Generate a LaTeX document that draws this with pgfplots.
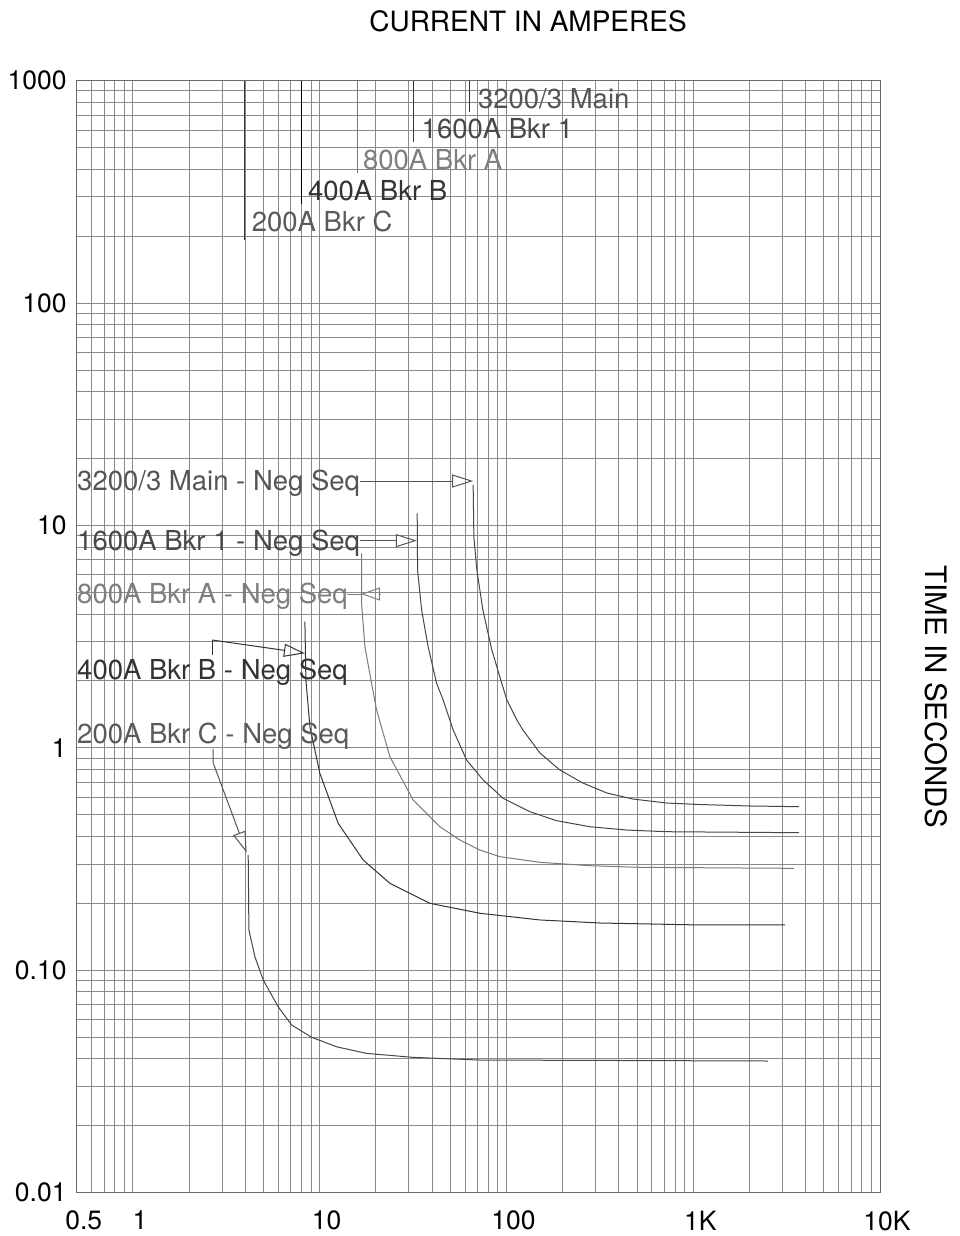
\documentclass[border=0pt]{standalone}
\usepackage{fontspec}
\setmainfont{TeX Gyre Heros}
\usepackage{pgfplots}
\pgfplotsset{compat=1.18}
\usetikzlibrary{arrows.meta}
\definecolor{gridc}{HTML}{8A8A8A}
\definecolor{axisc}{HTML}{6A6A6A}
\definecolor{curvec}{HTML}{474747}
\definecolor{curvel}{HTML}{7A7A7A}
\definecolor{arrowc}{HTML}{555555}
\definecolor{tmain}{HTML}{555555}
\definecolor{tone}{HTML}{484848}
\definecolor{ta}{HTML}{7E7E7E}
\definecolor{tb}{HTML}{333333}
\definecolor{tc}{HTML}{5A5A5A}
\newcommand{\lbl}{\fontsize{27.5}{32}\selectfont}
\begin{document}
\begin{tikzpicture}[x=1pt,y=1pt]
\path[use as bounding box] (0,0) rectangle (960,1236);
\begin{axis}[
  at={(76.7pt,43.3pt)}, anchor=south west,
  scale only axis, width=803.3pt, height=1112pt,
  xmode=log, ymode=log,
  xmin=0.5, xmax=10000, ymin=0.01, ymax=1000,
  xtick={0.5,1,10,100,1000,10000},
  xticklabels={0.5,1,10,100,1K,10K},
  ytick={0.01,0.1,1,10,100,1000},
  yticklabels={0.01,0.10,1,10,100,1000},
  minor xtick={0.6,0.7,0.8,0.9,2,3,4,5,6,7,8,9,20,30,40,50,60,70,80,90,200,300,400,500,600,700,800,900,2000,3000,4000,5000,6000,7000,8000,9000},
  minor ytick={0.02,0.03,0.04,0.05,0.06,0.07,0.08,0.09,0.2,0.3,0.4,0.5,0.6,0.7,0.8,0.9,2,3,4,5,6,7,8,9,20,30,40,50,60,70,80,90,200,300,400,500,600,700,800,900},
  major tick length=0pt, minor tick length=0pt,
  xmajorgrids, xminorgrids, ymajorgrids, yminorgrids,
  major grid style={gridc, line width=0.95pt},
  minor grid style={gridc, line width=0.95pt},
  axis line style={draw=axisc, line width=1pt},
  tick label style={font=\fontsize{26.5}{30}\selectfont, text=black, inner sep=0pt},
  xticklabel style={anchor=north, yshift=-18pt, xshift=7pt},
  yticklabel style={anchor=east, xshift=-10pt},
  /pgf/number format/assume math mode=true,
  clip=false,
]
% long-time pickup lines at top
\addplot[tb, line width=1.1pt] coordinates {(63.7,1000) (63.7,725.4)};
\addplot[tb, line width=1.1pt] coordinates {(31.66,1000) (31.66,531.8)};
\addplot[curvel, line width=1.1pt] coordinates {(15.95,1000) (15.95,383.4)};
\addplot[black, line width=1.1pt] coordinates {(8.0,1000) (8.0,279.0)};
\addplot[tb, line width=1.1pt] coordinates {(3.98,1000) (3.98,192)};

% 3200/3 Main - Neg Seq
\addplot[curvec, line width=1pt] coordinates {
(66.33,15.21) (66.91,8.88) (69.42,6.31) (74.77,4.17) (83.51,2.755) (92.2,2.084)
(100.5,1.642) (113.7,1.335) (122.4,1.204) (151.0,0.949) (193.1,0.796) (256.5,0.695)
(344.8,0.627) (475.0,0.589) (722.3,0.565) (1085,0.5565) (2010,0.548) (3675,0.544)};
% 1600A Bkr 1 - Neg Seq
\addplot[curvec, line width=1pt] coordinates {
(33.27,11.35) (33.43,6.31) (35.13,4.17) (38.09,2.851) (42.25,1.952) (45.83,1.642)
(51.84,1.204) (61.15,0.882) (75.05,0.7174) (96.0,0.5935) (133.5,0.5165) (185.4,0.4707)
(279.6,0.4422) (439.5,0.4273) (719.6,0.4199) (3675,0.4156)};
% 800A Bkr A - Neg Seq
\addplot[curvel, line width=1pt] coordinates {
(16.76,7.50) (16.76,4.47) (17.46,2.851) (18.96,1.952) (20.17,1.480) (23.76,0.913)
(31.66,0.583) (44.0,0.4422) (56.3,0.3854) (72.05,0.3474) (92.2,0.3242) (151.0,0.3059)
(279.6,0.2953) (517.8,0.2904) (3455,0.2874)};
% 400A Bkr B - Neg Seq
\addplot[tb, line width=1pt] coordinates {
(8.333,3.693) (8.436,2.020) (8.864,1.245) (10.02,0.7687) (12.56,0.4581) (17.09,0.3133)
(23.76,0.2461) (38.9,0.2001) (72.05,0.1805) (151.0,0.1684) (316.2,0.1632) (1085,0.1599) (3093,0.1599)};
% 200A Bkr C - Neg Seq
\addplot[curvec, line width=1pt] coordinates {
(4.142,0.330) (4.178,0.1518) (4.499,0.1151) (4.984,0.0905) (5.995,0.0686) (7.071,0.0568)
(9.051,0.0500) (12.31,0.0453) (17.83,0.0423) (31.66,0.0406) (72.05,0.0395) (2508,0.0391)};

% top labels
\node[anchor=base west, inner sep=0pt, font=\lbl, text=tmain] at (axis cs:70.3,751.3) {3200/3 Main};
\node[anchor=base west, inner sep=0pt, font=\lbl, text=tone] at (axis cs:35.1,547.0) {1600A Bkr 1};
\node[anchor=base west, inner sep=0pt, font=\lbl, text=ta] at (axis cs:17.03,399.5) {800A Bkr A};
\node[anchor=base west, inner sep=0pt, font=\lbl, text=tb] at (axis cs:8.65,288.7) {400A Bkr B};
\node[anchor=base west, inner sep=0pt, font=\lbl, text=tc] at (axis cs:4.32,209.4) {200A Bkr C};

% neg seq labels
\node[anchor=base west, inner sep=0pt, font=\lbl, text=tmain] at (axis cs:0.502,14.37) {3200/3 Main - Neg Seq};
\node[anchor=base west, inner sep=0pt, font=\lbl, text=tone] at (axis cs:0.502,7.76) {1600A Bkr 1 - Neg Seq};
\node[anchor=base west, inner sep=0pt, font=\lbl, text=ta] at (axis cs:0.502,4.47) {800A Bkr A - Neg Seq};
\node[anchor=base west, inner sep=0pt, font=\lbl, text=tb] at (axis cs:0.502,2.035) {400A Bkr B - Neg Seq};
\node[anchor=base west, inner sep=0pt, font=\lbl, text=tc] at (axis cs:0.502,1.049) {200A Bkr C - Neg Seq};

% arrows
\draw[arrowc, line width=1pt, -{Triangle[open,length=21pt,width=13pt]}] (axis cs:16.41,15.85) -- (axis cs:66.3,15.85);
\draw[arrowc, line width=1pt, -{Triangle[open,length=21pt,width=13pt]}] (axis cs:16.41,8.55) -- (axis cs:33.14,8.55);
\draw[ta, line width=1pt] (axis cs:13.98,4.92) -- (axis cs:16.62,4.92);
\draw[ta, line width=1pt, -{Triangle[open,length=19pt,width=13pt]}] (axis cs:21.0,4.92) -- (axis cs:16.62,4.92);
\draw[tb, line width=1pt] (axis cs:2.658,2.617) -- (axis cs:2.658,3.056);
\draw[tb, line width=1pt, -{Triangle[open,length=21pt,width=13pt]}] (axis cs:2.658,3.056) -- (axis cs:8.333,2.663);
\draw[arrowc, line width=1pt, -{Triangle[open,length=21pt,width=13pt]}] (axis cs:2.691,0.9888) -- (axis cs:2.691,0.855) -- (axis cs:4.062,0.338);
\end{axis}
\node[font=\fontsize{28}{32}\selectfont, inner sep=0pt] at (528,1215) {CURRENT IN AMPERES};
\node[font=\fontsize{29.5}{34}\selectfont, inner sep=0pt, rotate=-90] at (936.7,539.3) {TIME IN SECONDS};
\end{tikzpicture}
\end{document}
